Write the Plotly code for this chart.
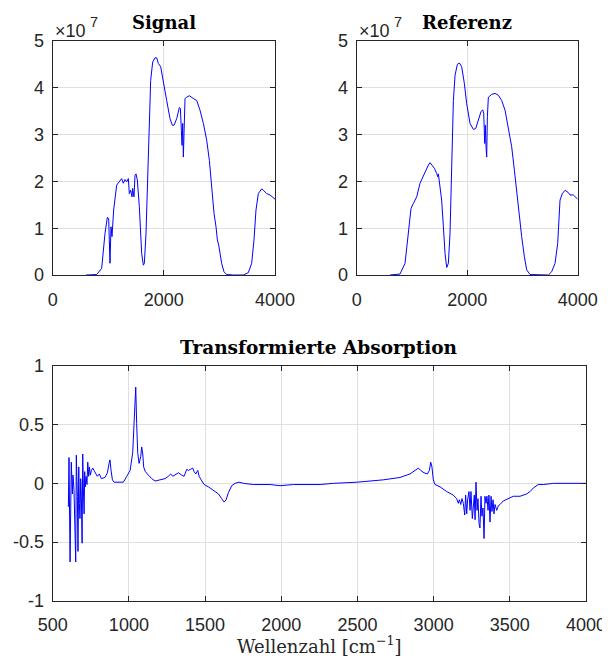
import plotly.graph_objects as go

# ---------------- data ----------------
sig_wn = [600, 792, 881, 941, 983, 1007, 1031, 1049, 1067, 1079, 1097, 1151, 1211, 1241, 1271, 1301,
          1331, 1361, 1379, 1403, 1427, 1439, 1463, 1481, 1499, 1523, 1559, 1601, 1631, 1649, 1679,
          1709, 1733, 1763, 1799, 1841, 1871, 1901, 1943, 1991, 2051, 2111, 2153, 2183, 2231, 2279,
          2297, 2315, 2327, 2339, 2351, 2363, 2381, 2411, 2459, 2531, 2591, 2651, 2711, 2771, 2819,
          2861, 2903, 2939, 2963, 2987, 3010, 3040, 3082, 3130, 3250, 3430, 3520, 3580, 3622, 3658,
          3700, 3760, 3790, 3850, 3910, 3970, 4000]
sig_val = [0, 0.01, 0.14, 0.89, 1.23, 1.21, 0.25, 1.03, 0.82, 1.03, 1.39, 1.92, 2.03, 2.06, 1.96, 2.04,
           1.99, 2.06, 1.74, 1.81, 1.67, 1.85, 1.67, 2.13, 2.16, 2.03, 1.46, 0.46, 0.21, 0.25, 0.89,
           2.17, 3.38, 4.16, 4.55, 4.64, 4.64, 4.52, 4.45, 4.16, 3.73, 3.34, 3.20, 3.20, 3.34, 3.58,
           3.56, 3.09, 2.77, 3.24, 2.52, 3.02, 3.77, 3.80, 3.83, 3.77, 3.73, 3.52, 3.24, 2.88, 2.45,
           1.88, 1.32, 1.03, 0.75, 0.64, 0.46, 0.25, 0.07, 0.01, 0, 0, 0.05, 0.25, 0.75, 1.39,
           1.74, 1.84, 1.81, 1.74, 1.71, 1.64, 1.62]

ref_wn = [603, 784, 875, 935, 983, 1026, 1086, 1146, 1207, 1249, 1297, 1327, 1357, 1406, 1448, 1466,
          1478, 1508, 1538, 1569, 1599, 1629, 1659, 1689, 1719, 1750, 1780, 1822, 1858, 1900, 1949,
          1991, 2051, 2112, 2154, 2202, 2250, 2281, 2299, 2317, 2329, 2341, 2353, 2365, 2383, 2443,
          2504, 2564, 2624, 2685, 2745, 2805, 2854, 2896, 2938, 2986, 3035, 3077, 3137, 3288, 3469,
          3529, 3590, 3638, 3680, 3722, 3771, 3831, 3861, 3922, 4000]
ref_val = [0, 0.02, 0.25, 0.89, 1.42, 1.53, 1.67, 1.96, 2.13, 2.24, 2.35, 2.40, 2.36, 2.28, 2.17, 2.10,
           2.16, 1.92, 1.60, 1.03, 0.46, 0.16, 0.25, 0.89, 2.17, 3.73, 4.27, 4.50, 4.53, 4.45, 4.09,
           3.66, 3.24, 3.11, 3.13, 3.31, 3.49, 3.53, 3.45, 2.81, 3.20, 2.74, 2.52, 3.38, 3.80, 3.86,
           3.88, 3.84, 3.73, 3.52, 3.17, 2.74, 2.24, 1.74, 1.32, 0.82, 0.39, 0.11, 0.01, 0, 0,
           0.07, 0.25, 0.68, 1.60, 1.74, 1.81, 1.76, 1.71, 1.71, 1.62]

abs_wn = [603, 607, 614, 618, 622, 629, 633, 640, 647, 651, 655, 662, 666, 671, 675, 679, 684, 688,
          693, 697, 701, 706, 710, 714, 719, 725, 730, 736, 741, 747, 754, 763, 771, 780, 793, 806,
          819, 843, 859, 870, 876, 883, 892, 903, 931, 964, 986, 1008, 1025, 1036, 1045, 1051, 1058,
          1067, 1078, 1084, 1091, 1097, 1108, 1128, 1150, 1172, 1205, 1237, 1259, 1275, 1288, 1303,
          1325, 1347, 1362, 1380, 1391, 1406, 1419, 1428, 1439, 1452, 1461, 1474, 1494, 1522, 1555,
          1588, 1609, 1625, 1638, 1653, 1675, 1697, 1723, 1752, 1818, 1905, 1927, 1992, 2080, 2255,
          2342, 2499, 2670, 2779, 2845, 2878, 2900, 2915, 2937, 2959, 2972, 2981, 2989, 2998, 3009,
          3042, 3086, 3129, 3151, 3162, 3169, 3178, 3186, 3195, 3204, 3210, 3217, 3223, 3232, 3239,
          3245, 3254, 3261, 3267, 3272, 3278, 3285, 3291, 3298, 3304, 3311, 3317, 3324, 3331, 3337,
          3344, 3350, 3357, 3363, 3370, 3377, 3383, 3390, 3396, 3403, 3414, 3425, 3436, 3457, 3490,
          3523, 3567, 3611, 3633, 3654, 3687, 3720, 3786, 3983, 4000]
abs_val = [-0.20, 0.22, -0.67, -0.40, 0.18, -0.09, 0.07, -0.06, -0.37, -0.67, 0.24, -0.11, -0.58, 0.14,
           -0.17, -0.30, 0.04, -0.11, -0.51, 0.25, -0.03, -0.26, 0.10, -0.03, 0.06, -0.01, 0.18, 0.06,
           0.14, 0.07, 0.11, 0.13, 0.11, 0.09, 0.06, 0.08, 0.04, 0.05, 0.09, 0.17, 0.20, 0.11, 0.03,
           0.01, 0.01, 0.01, 0.06, 0.11, 0.26, 0.57, 0.82, 0.51, 0.26, 0.17, 0.23, 0.31, 0.25, 0.14,
           0.10, 0.07, 0.04, 0.02, 0.03, 0.04, 0.06, 0.08, 0.06, 0.07, 0.09, 0.07, 0.06, 0.12, 0.11,
           0.12, 0.13, 0.10, 0.08, 0.11, 0.06, 0.03, -0.01, -0.03, -0.06, -0.09, -0.13, -0.16, -0.14,
           -0.08, -0.02, 0.0, 0.01, 0.0, -0.01, -0.01, -0.01, -0.02, -0.01, -0.01,
           0.0, 0.01, 0.03, 0.05, 0.08, 0.11, 0.13, 0.11, 0.09, 0.08, 0.11, 0.18, 0.14, 0.03, -0.01,
           -0.03, -0.07, -0.10, -0.13, -0.17, -0.14, -0.18, -0.13, -0.17, -0.27, -0.10, -0.26, -0.14,
           -0.07, -0.23, -0.07, -0.30, -0.20, -0.10, -0.31, 0.01, -0.23, -0.13, -0.34, -0.38, -0.11,
           -0.28, -0.21, -0.47, -0.11, -0.17, -0.11, -0.23, -0.10, -0.33, -0.11, -0.24, -0.14, -0.26,
           -0.18, -0.23, -0.19, -0.18, -0.15, -0.13, -0.11, -0.11, -0.09, -0.07, -0.04, -0.01, -0.01,
           0.0, 0.0, 0.0]

top_xticks = [0, 2000, 4000]
top_xticklabels = ["0", "2000", "4000"]
top_yticks = [0, 1, 2, 3, 4, 5]
top_yticklabels = ["0", "1", "2", "3", "4", "5"]
bot_xticks = [500, 1000, 1500, 2000, 2500, 3000, 3500, 4000]
bot_xticklabels = ["500", "1000", "1500", "2000", "2500", "3000", "3500", "4000"]
bot_yticks = [-1, -0.5, 0, 0.5, 1]
bot_yticklabels = ["-1", "-0.5", "0", "0.5", "1"]

# ---------------- figure ----------------
# page body has an 8px margin: the figure is drawn from (8, 8) to (610, 664)
OFF = 8
W, H = 610 - OFF, 664 - OFF
LINE = dict(color="#0000ff", width=1)

fig = go.Figure()
fig.add_trace(go.Scatter(x=sig_wn, y=sig_val, mode="lines", line=LINE, xaxis="x", yaxis="y"))
fig.add_trace(go.Scatter(x=ref_wn, y=ref_val, mode="lines", line=LINE, xaxis="x2", yaxis="y2"))
fig.add_trace(go.Scatter(x=abs_wn, y=abs_val, mode="lines", line=LINE, xaxis="x3", yaxis="y3"))

TICKFONT = dict(family="Liberation Sans, Arial, sans-serif", size=18, color="#262626")
AX = dict(showline=True, linecolor="#262626", linewidth=1, mirror="ticks", ticks="inside",
          ticklen=5, tickcolor="#262626", showgrid=True, gridcolor="#dfdfdf", gridwidth=1,
          zeroline=False, tickfont=TICKFONT, automargin=False)

def px_x(p):
    return (p - OFF) / W

def px_y(p):
    return 1 - (p - OFF) / H

L1, R1 = 52.7, 275.0
L2, R2 = 356.7, 577.7
T1, B1 = 41.0, 275.0
L3, R3 = 52.7, 586.0
T3, B3 = 366.0, 600.7

fig.update_layout(
    width=W, height=H, showlegend=False,
    margin=dict(l=0, r=0, t=0, b=0, autoexpand=False),
    paper_bgcolor="white", plot_bgcolor="white",
    xaxis=dict(AX, domain=[px_x(L1), px_x(R1)], range=[0, 4000], tickvals=top_xticks,
               ticktext=top_xticklabels, anchor="y", ticklabelstandoff=8),
    yaxis=dict(AX, domain=[px_y(B1), px_y(T1)], range=[0, 5], tickvals=top_yticks,
               ticktext=top_yticklabels, anchor="x", ticklabelstandoff=4),
    xaxis2=dict(AX, domain=[px_x(L2), px_x(R2)], range=[0, 4000], tickvals=top_xticks,
                ticktext=top_xticklabels, anchor="y2", ticklabelstandoff=8),
    yaxis2=dict(AX, domain=[px_y(B1), px_y(T1)], range=[0, 5], tickvals=top_yticks,
                ticktext=top_yticklabels, anchor="x2", ticklabelstandoff=4),
    xaxis3=dict(AX, domain=[px_x(L3), px_x(R3)], range=[500, 4000], tickvals=bot_xticks,
                ticktext=bot_xticklabels, anchor="y3", ticklabelstandoff=8),
    yaxis3=dict(AX, domain=[px_y(B3), px_y(T3)], range=[-1, 1], tickvals=bot_yticks,
                ticktext=bot_yticklabels, anchor="x3", ticklabelstandoff=4),
)

TITLEFONT = dict(family="DejaVu Serif, serif", size=18, color="black")
EXPFONT = dict(family="Liberation Sans, Arial, sans-serif", size=18, color="#262626")
anns = [
    dict(text="<b>Signal</b>", x=px_x((L1 + R1) / 2), y=px_y(22), font=TITLEFONT),
    dict(text="<b>Referenz</b>", x=px_x((L2 + R2) / 2), y=px_y(22), font=TITLEFONT),
    dict(text="<b>Transformierte Absorption</b>", x=px_x((L3 + R3) / 2), y=px_y(347),
         font=dict(TITLEFONT, size=18.5)),
    dict(text="Wellenzahl [cm<sup>−1</sup>]", x=px_x((L3 + R3) / 2), y=px_y(645),
         font=dict(family="DejaVu Serif, serif", size=18, color="#262626")),
    dict(text="×10", x=px_x(53), y=px_y(31), xanchor="left", font=EXPFONT),
    dict(text="7", x=px_x(88), y=px_y(22), xanchor="left", font=dict(EXPFONT, size=14.5)),
    dict(text="×10", x=px_x(357), y=px_y(31), xanchor="left", font=EXPFONT),
    dict(text="7", x=px_x(392), y=px_y(22), xanchor="left", font=dict(EXPFONT, size=14.5)),
]
for a in anns:
    a.setdefault("xanchor", "center")
    fig.add_annotation(xref="paper", yref="paper", showarrow=False, yanchor="middle", **a)

fig.write_html("out.html")
